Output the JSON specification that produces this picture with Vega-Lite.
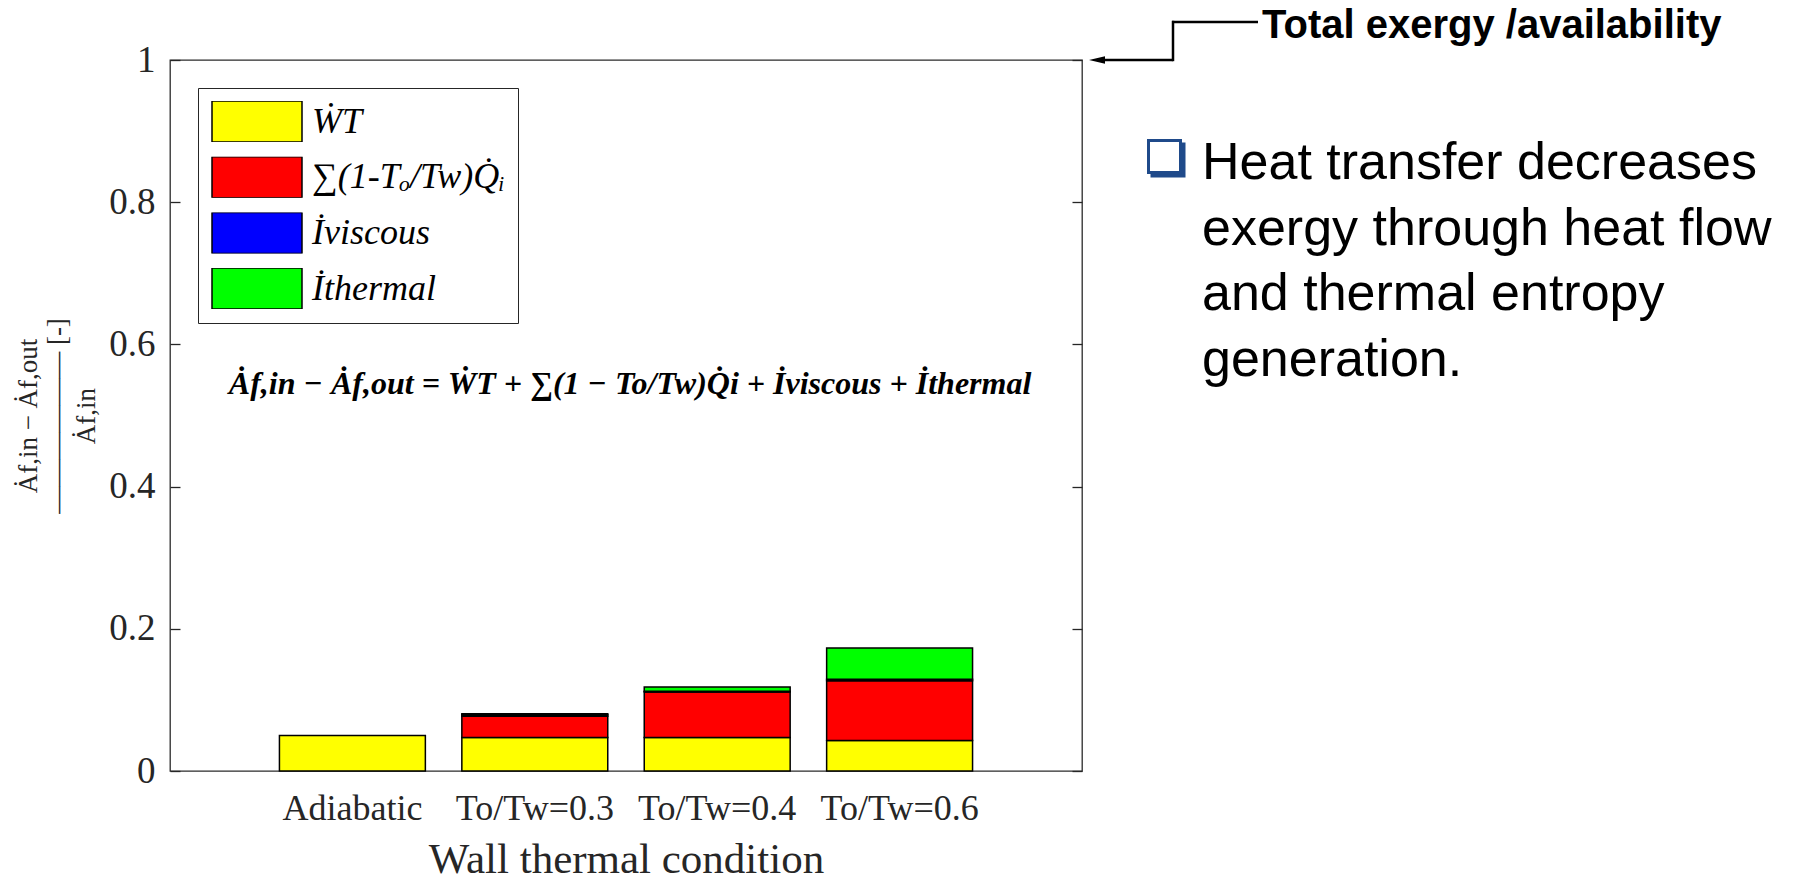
{
  "$schema": "https://vega.github.io/schema/vega-lite/v6.json",
  "background": "white",
  "padding": {"left": 14, "top": 6, "right": 5, "bottom": 0},
  "spacing": 0,
  "config": {
    "view": {"stroke": null},
    "font": "Liberation Serif",
    "axis": {"grid": false}
  },
  "hconcat": [
    {
      "width": 912,
      "height": 711,
      "view": {"stroke": "#2b2b2b", "strokeWidth": 1.3},
      "resolve": {"axis": {"y": "independent"}},
      "layer": [
        {
          "data": {
            "values": [
              {"condition": "Adiabatic", "term": "ẆT", "k": 1, "value": 0.050},
              {"condition": "To/Tw=0.3", "term": "ẆT", "k": 1, "value": 0.047},
              {"condition": "To/Tw=0.3", "term": "∑(1-Tₒ/Tw)Q̇ᵢ", "k": 2, "value": 0.030},
              {"condition": "To/Tw=0.3", "term": "İviscous", "k": 3, "value": 0.002},
              {"condition": "To/Tw=0.3", "term": "İthermal", "k": 4, "value": 0.0015},
              {"condition": "To/Tw=0.4", "term": "ẆT", "k": 1, "value": 0.047},
              {"condition": "To/Tw=0.4", "term": "∑(1-Tₒ/Tw)Q̇ᵢ", "k": 2, "value": 0.064},
              {"condition": "To/Tw=0.4", "term": "İviscous", "k": 3, "value": 0.001},
              {"condition": "To/Tw=0.4", "term": "İthermal", "k": 4, "value": 0.006},
              {"condition": "To/Tw=0.6", "term": "ẆT", "k": 1, "value": 0.043},
              {"condition": "To/Tw=0.6", "term": "∑(1-Tₒ/Tw)Q̇ᵢ", "k": 2, "value": 0.084},
              {"condition": "To/Tw=0.6", "term": "İviscous", "k": 3, "value": 0.002},
              {"condition": "To/Tw=0.6", "term": "İthermal", "k": 4, "value": 0.044}
            ]
          },
          "mark": {"type": "bar", "stroke": "#000000", "strokeWidth": 1.5},
          "encoding": {
            "x": {
              "field": "condition",
              "type": "nominal",
              "sort": ["Adiabatic", "To/Tw=0.3", "To/Tw=0.4", "To/Tw=0.6"],
              "scale": {"paddingInner": 0.2, "paddingOuter": 0.6},
              "axis": {
                "title": "Wall thermal condition",
                "labelAngle": 0,
                "ticks": false,
                "domain": false,
                "labelFont": "Liberation Serif",
                "labelFontSize": 36,
                "labelColor": "#262626",
                "labelPadding": 20,
                "titleFont": "Liberation Serif",
                "titleFontSize": 43,
                "titleFontWeight": "normal",
                "titleColor": "#262626",
                "titlePadding": 12
              }
            },
            "y": {
              "field": "value",
              "type": "quantitative",
              "stack": "zero",
              "scale": {"domain": [0, 1], "nice": false},
              "axis": {
                "values": [0, 0.2, 0.4, 0.6, 0.8, 1],
                "format": "~g",
                "tickSize": -10,
                "tickColor": "#262626",
                "tickWidth": 1.3,
                "labelPadding": 25,
                "domain": false,
                "labelFont": "Liberation Serif",
                "labelFontSize": 37,
                "labelColor": "#262626",
                "title": ["Ȧf,in − Ȧf,out     ", "—————— [-]", "Ȧf,in     "],
                "titleFont": "Liberation Serif",
                "titleFontSize": 27,
                "titleFontWeight": "normal",
                "titleColor": "#262626",
                "titleLineHeight": 29,
                "titlePadding": 8
              }
            },
            "color": {
              "field": "term",
              "type": "nominal",
              "scale": {
                "domain": ["ẆT", "∑(1-Tₒ/Tw)Q̇ᵢ", "İviscous", "İthermal"],
                "range": ["#FFFF00", "#FF0000", "#0000FF", "#00FF00"]
              },
              "legend": {
                "orient": "top-left",
                "offset": 28,
                "title": null,
                "symbolType": "M-1,-0.456L1,-0.456L1,0.456L-1,0.456Z",
                "symbolSize": 8100,
                "symbolStrokeColor": "#000000",
                "symbolStrokeWidth": 1.5,
                "symbolOpacity": 1,
                "clipHeight": 41,
                "rowPadding": 14.7,
                "padding": 13,
                "labelOffset": 9,
                "labelFont": "Liberation Serif",
                "labelFontSize": 36,
                "labelFontStyle": "italic",
                "labelColor": "#000000",
                "labelLimit": 400,
                "fillColor": "white",
                "strokeColor": "#262626"
              }
            },
            "order": {"field": "k", "type": "quantitative"}
          }
        },
        {
          "data": {"values": [{"eq": "Ȧf,in − Ȧf,out = ẆT + ∑(1 − To/Tw)Q̇i + İviscous + İthermal"}]},
          "mark": {"type": "text", "font": "Liberation Serif", "fontSize": 32, "fontWeight": "bold", "fontStyle": "italic", "align": "center", "baseline": "middle", "color": "#000000"},
          "encoding": {
            "text": {"field": "eq"},
            "x": {"datum": "To/Tw=0.3", "type": "nominal", "bandPosition": 1.153},
            "y": {
              "datum": 0.544,
              "type": "quantitative",
              "scale": {"domain": [0, 1], "nice": false},
              "axis": {"orient": "right", "values": [0, 0.2, 0.4, 0.6, 0.8, 1], "labels": false, "domain": false, "tickSize": -10, "tickColor": "#262626", "tickWidth": 1.3, "title": null}
            }
          }
        }
      ]
    },
    {
      "width": 714,
      "height": 711,
      "layer": [
        {
          "data": {"values": [{"part": "arrow"}]},
          "mark": {"type": "rule", "color": "#000000", "strokeWidth": 2.5},
          "encoding": {
            "x": {"datum": 13, "type": "quantitative", "scale": {"domain": [0, 714], "nice": false, "zero": false}, "axis": null},
            "x2": {"datum": 89},
            "y": {"datum": 0, "type": "quantitative", "scale": {"domain": [0, 711], "reverse": true, "nice": false, "zero": false}, "axis": null}
          }
        },
        {
          "data": {"values": [{"part": "arrow"}]},
          "mark": {"type": "rule", "color": "#000000", "strokeWidth": 2.5},
          "encoding": {
            "x": {"datum": 89, "type": "quantitative", "scale": {"domain": [0, 714], "nice": false, "zero": false}, "axis": null},
            "y": {"datum": 1.2, "type": "quantitative", "scale": {"domain": [0, 711], "reverse": true, "nice": false, "zero": false}, "axis": null},
            "y2": {"datum": -39.2}
          }
        },
        {
          "data": {"values": [{"part": "arrow"}]},
          "mark": {"type": "rule", "color": "#000000", "strokeWidth": 2.5},
          "encoding": {
            "x": {"datum": 88, "type": "quantitative", "scale": {"domain": [0, 714], "nice": false, "zero": false}, "axis": null},
            "x2": {"datum": 174},
            "y": {"datum": -38, "type": "quantitative", "scale": {"domain": [0, 711], "reverse": true, "nice": false, "zero": false}, "axis": null}
          }
        },
        {
          "data": {"values": [{"part": "arrowhead"}]},
          "mark": {"type": "point", "shape": "M-1,0L1,-0.47L1,0.47Z", "size": 256, "filled": true, "color": "#000000", "opacity": 1},
          "encoding": {
            "x": {"datum": 13, "type": "quantitative", "scale": {"domain": [0, 714], "nice": false, "zero": false}, "axis": null},
            "y": {"datum": 0, "type": "quantitative", "scale": {"domain": [0, 711], "reverse": true, "nice": false, "zero": false}, "axis": null}
          }
        },
        {
          "data": {"values": [{"note": "Total exergy /availability"}]},
          "mark": {"type": "text", "font": "Liberation Sans", "fontSize": 40, "fontWeight": "bold", "align": "left", "baseline": "alphabetic", "color": "#000000"},
          "encoding": {
            "text": {"field": "note"},
            "x": {"datum": 178, "type": "quantitative", "scale": {"domain": [0, 714], "nice": false, "zero": false}, "axis": null},
            "y": {"datum": -22, "type": "quantitative", "scale": {"domain": [0, 711], "reverse": true, "nice": false, "zero": false}, "axis": null}
          }
        },
        {
          "data": {"values": [{"part": "bullet"}]},
          "mark": {"type": "point", "shape": "square", "size": 1225, "filled": true, "color": "#1F4A8A", "opacity": 1},
          "encoding": {
            "x": {"datum": 84, "type": "quantitative", "scale": {"domain": [0, 714], "nice": false, "zero": false}, "axis": null},
            "y": {"datum": 100, "type": "quantitative", "scale": {"domain": [0, 711], "reverse": true, "nice": false, "zero": false}, "axis": null}
          }
        },
        {
          "data": {"values": [{"part": "bullet"}]},
          "mark": {"type": "point", "shape": "square", "size": 1024, "filled": true, "fill": "#FFFFFF", "stroke": "#1F4A8A", "strokeWidth": 3, "opacity": 1},
          "encoding": {
            "x": {"datum": 80.5, "type": "quantitative", "scale": {"domain": [0, 714], "nice": false, "zero": false}, "axis": null},
            "y": {"datum": 96.5, "type": "quantitative", "scale": {"domain": [0, 711], "reverse": true, "nice": false, "zero": false}, "axis": null}
          }
        },
        {
          "data": {"values": [{"l1": "Heat transfer decreases", "l2": "exergy through heat flow", "l3": "and thermal entropy", "l4": "generation."}]},
          "mark": {"type": "text", "font": "Liberation Sans", "fontSize": 52, "align": "left", "baseline": "alphabetic", "lineHeight": 65.5, "color": "#000000"},
          "encoding": {
            "text": {"value": ["Heat transfer decreases", "exergy through heat flow", "and thermal entropy", "generation."]},
            "x": {"datum": 118, "type": "quantitative", "scale": {"domain": [0, 714], "nice": false, "zero": false}, "axis": null},
            "y": {"datum": 119, "type": "quantitative", "scale": {"domain": [0, 711], "reverse": true, "nice": false, "zero": false}, "axis": null}
          }
        }
      ]
    }
  ]
}
